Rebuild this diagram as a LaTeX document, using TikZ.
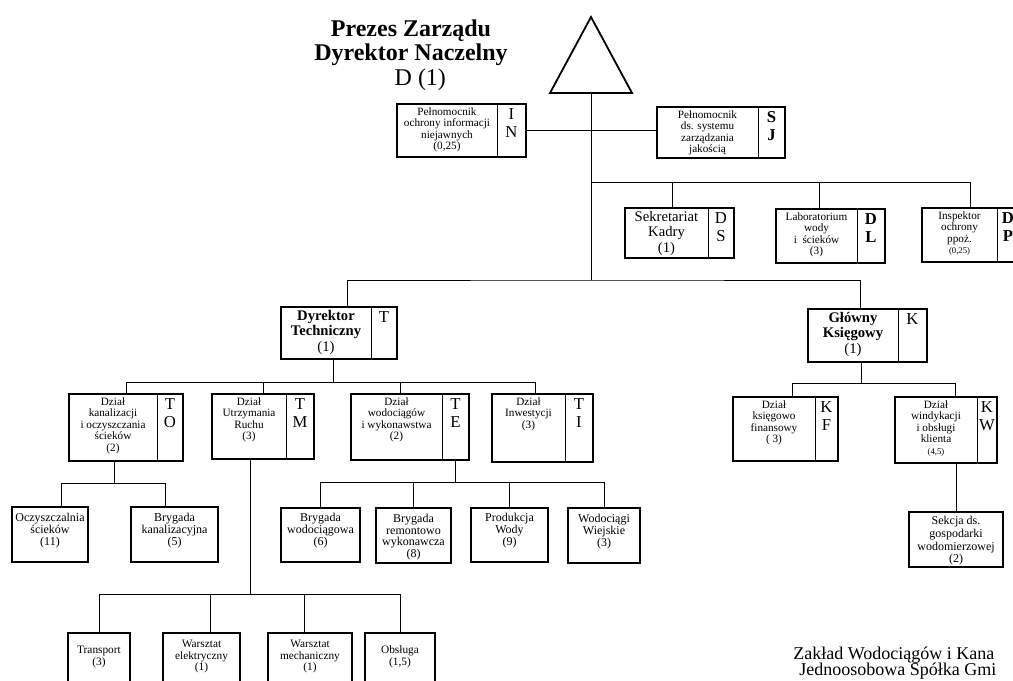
\documentclass[tikz,border=0pt]{standalone}
\usepackage{fontspec}
\setmainfont{Liberation Serif}
\usetikzlibrary{fit}

\tikzset{
  unit/.style={draw, line width=1.35pt, inner sep=0pt},
  leaf/.style={unit, align=center, font=\fontsize{9}{8.9}\selectfont},
  leaftxt/.style={align=center, inner sep=0pt, font=\fontsize{9}{9.5}\selectfont},
  small/.style={leaf, font=\fontsize{8.5}{8.6}\selectfont},
  divline/.style={line width=0.6pt},
  link/.style={line width=0.75pt},
  txt/.style={align=center, inner sep=2.5pt, font=\fontsize{8.4}{8.6}\selectfont},
  bigtxt/.style={align=center, inner sep=2pt, font=\fontsize{11}{11.8}\selectfont},
  code/.style={align=center, inner sep=3pt, font=\fontsize{12.5}{13.5}\selectfont},
}

% box with text part and code part:
% [text style] name, left, top, divider, right, bottom, text, code
\newcommand{\orgbox}[9][txt]{%
  \node[unit, fit={(#3,#4) (#6,#7)}] (#2) {};
  \draw[divline] (#5,#4) -- (#5,#7);
  \node[#1, anchor=north] (#2-t) at ({(#3+#5)/2},#4) {#8};
  \node[code, anchor=north] (#2-c) at ({(#5+#6)/2},#4) {#9};
}

\begin{document}
\begin{tikzpicture}[x=0.75pt, y=-0.75pt]
  \useasboundingbox (0,0) rectangle (1013,681);

  % head
  \node[align=center, font=\fontsize{18}{18.2}\selectfont] (ceo) at (411,55)
    {\textbf{Prezes Zarządu}\\\textbf{Dyrektor Naczelny}\\\hspace*{14pt}D (1)};
  \coordinate (apex) at (591,17);
  \coordinate (chief) at (591,93);
  \draw[line width=1.35pt] (apex) -- (632,93) -- (550,93) -- cycle;

  % staff
  \orgbox{in}{397}{104}{497}{526}{157}{Pełnomocnik\\ochrony informacji\\niejawnych\\(0,25)}{I\\N}
  \orgbox{sj}{657}{107}{758}{785}{158}{Pełnomocnik\\ds. systemu\\zarządzania\\jakością}{\textbf{S}\\\textbf{J}}
  \orgbox[bigtxt]{ds}{625}{208}{708}{734}{258}{Sekretariat\\Kadry\\(1)}{D\\S}
  \orgbox{dl}{776}{209}{857}{885}{263}{Laboratorium\\wody\\i\ \ ścieków\\(3)}{\textbf{D}\\\textbf{L}}
  \orgbox{dp}{922}{208}{997}{1019}{262}{Inspektor\\ochrony\\ppoż.\\{\fontsize{6.5}{7}\selectfont(0,25)}}{\textbf{D}\\\textbf{P}}

  \draw[link] (in.east) -- (in.east -| sj.west);
  \coordinate (hubS) at (591,182);
  \coordinate (hubM) at (591,280);
  \draw[link] (chief) -- (hubM);
  \draw[link] (hubS) -| (dp.north);
  \draw[link] ([xshift=-5.6pt]ds.north) |- (hubS);
  \draw[link] ([xshift=-7.9pt]dl.north) |- (hubS);

  % directors
  \orgbox[bigtxt]{dt}{281}{307}{371}{397}{359}{\textbf{Dyrektor}\\\textbf{Techniczny}\\(1)}{T}
  \orgbox[bigtxt]{gk}{808}{309}{898}{927}{362}{\textbf{Główny}\\\textbf{Księgowy}\\(1)}{K}
  \draw[link] ([xshift=6pt]dt.north) |- (hubM) -| ([xshift=-4.9pt]gk.north);

  % technical departments
  \orgbox{to}{69}{394}{157}{183}{461}{Dział\\kanalizacji\\i oczyszczania\\ścieków\\(2)}{T\\O}
  \orgbox{tm}{212}{394}{286}{314}{459}{Dział\\Utrzymania\\Ruchu\\(3)}{T\\M}
  \orgbox{te}{351}{394}{442}{469}{460}{Dział\\wodociągów\\i wykonawstwa\\(2)}{T\\E}
  \orgbox{ti}{492}{394}{565}{593}{462}{Dział\\Inwestycji\\(3)}{T\\I}

  \coordinate (busT) at (333,382);
  \draw[link] ([xshift=-4.5pt]dt.south) -- (busT);
  \foreach \n/\s in {to/0, tm/0, te/-6.8, ti/-4.9}
    \draw[link] ([xshift=\s pt]\n.north) |- (busT);

  % finance departments
  \orgbox{kf}{733}{397}{815}{838}{461}{Dział\\księgowo\\finansowy\\( 3)}{K\\F}
  \orgbox{kw}{895}{397}{977}{997}{463}{Dział\\windykacji\\i obsługi\\klienta\\{\fontsize{6.5}{7}\selectfont(4,5)}}{K\\W}
  \coordinate (busK) at (861,383);
  \draw[link] (busK |- gk.south) -- (busK);
  \foreach \n/\s in {kf/5.6, kw/6.8}
    \draw[link] ([xshift=\s pt]\n.north) |- (busK);

  \node[unit, fit={(909,512) (1003,567)}] (sek) {};
  \node[leaftxt] (sek-t) at ([yshift=-1.2pt]sek.center) {Sekcja ds.\\gospodarki\\wodomierzowej\\(2)};
  \draw[link] (sek.north) -- (sek.north |- kw.south);

  % teams
  \node[leaf, fit={(12,507) (88,562)}] (os) {Oczyszczalnia\\ścieków\\(11)};
  \node[leaf, fit={(131,507) (218,562)}] (bk) {Brygada\\kanalizacyjna\\(5)};
  \coordinate (busO) at (114,483);
  \draw[link] (busO |- to.south) -- (busO);
  \foreach \n/\s in {os/8.3, bk/-6.4}
    \draw[link] ([xshift=\s pt]\n.north) |- (busO);

  \node[leaf, fit={(281,508) (360,562)}] (bw) {Brygada\\wodociągowa\\(6)};
  \node[unit, fit={(376,508) (451,563)}] (br) {};
  \node[leaftxt] (br-t) at ([yshift=-1.2pt]br.center) {Brygada\\[-0.6pt]remontowo\\[-0.6pt]wykonawcza\\[-0.6pt](8)};
  \node[leaf, fit={(471,508) (548,562)}] (pw) {Produkcja\\Wody\\(9)};
  \node[leaf, fit={(568,508) (640,563)}] (ww) {Wodociągi\\Wiejskie\\(3)};
  \coordinate (busE) at (455,482);
  \draw[link] (busE |- te.south) -- (busE);
  \foreach \n in {bw, br, pw, ww}
    \draw[link] (\n.north) |- (busE);

  \node[small, fit={(68,633) (130,688)}] (tr) {Transport\\(3)};
  \node[small, fit={(163,633) (240,688)}] (we) {Warsztat\\elektryczny\\(1)};
  \node[small, fit={(268,633) (352,688)}] (wm) {Warsztat\\mechaniczny\\(1)};
  \node[small, fit={(365,633) (435,688)}] (ob) {Obsługa\\(1,5)};
  \coordinate (busM) at (250,594);
  \draw[link] (busM |- tm.south) -- (busM);
  \foreach \n/\s in {tr/0, we/6.4, wm/-3.8, ob/0}
    \draw[link] ([xshift=\s pt]\n.north) |- (busM);

  % company name
  \node[anchor=base west, inner sep=0pt, font=\fontsize{13.5}{14}\selectfont] (firm1) at (793,659) {Zakład Wodociągów i Kana};
  \node[anchor=base west, inner sep=0pt, font=\fontsize{13.5}{14}\selectfont] (firm2) at (799,675) {Jednoosobowa Spółka Gmi};
\end{tikzpicture}
\end{document}
